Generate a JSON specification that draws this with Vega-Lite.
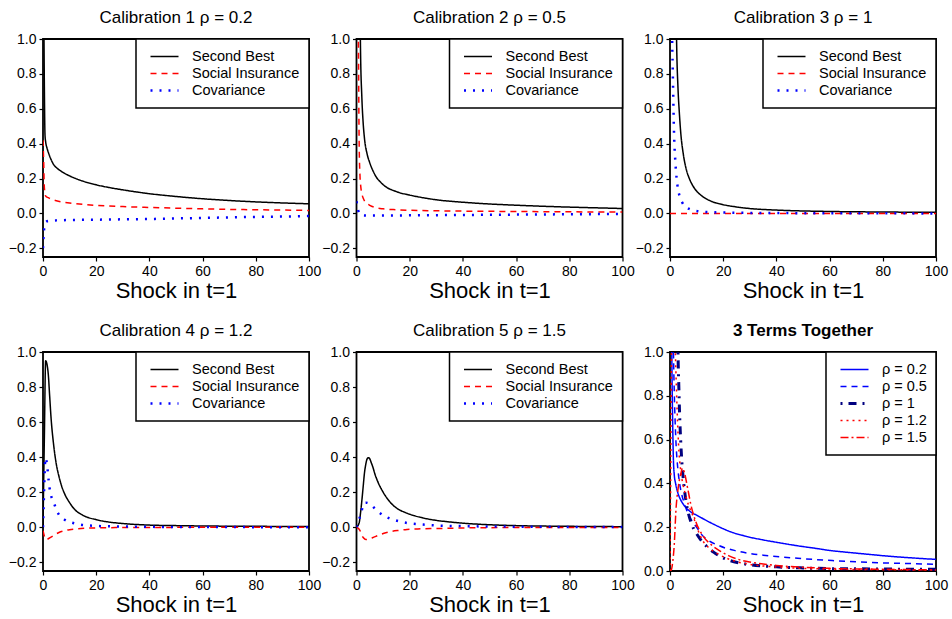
{
  "$schema": "https://vega.github.io/schema/vega-lite/v6.json",
  "background": "white",
  "padding": {"left": 7, "top": 8, "right": 4, "bottom": 4},
  "config": {
    "font": "Liberation Sans",
    "view": {"stroke": "black", "strokeWidth": 1.8},
    "axis": {"grid": false, "domain": false, "tickColor": "black", "tickSize": 4, "tickWidth": 1.2, "labelColor": "black", "labelFontSize": 14, "labelFont": "Liberation Sans", "labelPadding": 3, "titleFont": "Liberation Sans", "titleFontSize": 22, "titleFontWeight": "normal", "titleColor": "black", "titlePadding": 2},
    "title": {"fontSize": 17, "fontWeight": "normal", "color": "black", "font": "Liberation Sans", "offset": 5},
    "legend": {"orient": "top-right", "offset": 0, "padding": 9, "strokeColor": "black", "strokeWidth": 1.5, "fillColor": "white", "symbolType": "stroke", "symbolSize": 784, "clipHeight": 17, "rowPadding": 0, "labelFontSize": 14.5, "labelFont": "Liberation Sans", "labelColor": "black", "labelOffset": 12, "symbolOffset": 4, "title": null}
  },
  "columns": 3,
  "spacing": {"row": 95, "column": 47.5},
  "bounds": "flush",
  "resolve": {"scale": {"color": "independent", "strokeDash": "independent", "strokeWidth": "independent", "y": "independent", "x": "independent"}},
  "datasets": {
    "p1": [
      {"s":"Second Best","x":0.25,"y":1.3},{"s":"Second Best","x":0.5,"y":0.75},{"s":"Second Best","x":0.75,"y":0.45},{"s":"Second Best","x":1,"y":0.41},{"s":"Second Best","x":1.5,"y":0.375},{"s":"Second Best","x":2,"y":0.35},{"s":"Second Best","x":3,"y":0.31},{"s":"Second Best","x":4,"y":0.28},{"s":"Second Best","x":5,"y":0.263},{"s":"Second Best","x":7,"y":0.24},{"s":"Second Best","x":10,"y":0.215},{"s":"Second Best","x":15,"y":0.185},{"s":"Second Best","x":20,"y":0.164},{"s":"Second Best","x":25,"y":0.148},{"s":"Second Best","x":30,"y":0.135},{"s":"Second Best","x":40,"y":0.113},{"s":"Second Best","x":50,"y":0.097},{"s":"Second Best","x":60,"y":0.084},{"s":"Second Best","x":70,"y":0.074},{"s":"Second Best","x":80,"y":0.066},{"s":"Second Best","x":90,"y":0.06},{"s":"Second Best","x":100,"y":0.055},
      {"s":"Social Insurance","x":0,"y":0.42},{"s":"Social Insurance","x":0.25,"y":0.3},{"s":"Social Insurance","x":0.5,"y":0.15},{"s":"Social Insurance","x":1,"y":0.1},{"s":"Social Insurance","x":2,"y":0.09},{"s":"Social Insurance","x":3,"y":0.083},{"s":"Social Insurance","x":5,"y":0.073},{"s":"Social Insurance","x":7,"y":0.066},{"s":"Social Insurance","x":10,"y":0.06},{"s":"Social Insurance","x":15,"y":0.052},{"s":"Social Insurance","x":20,"y":0.046},{"s":"Social Insurance","x":30,"y":0.039},{"s":"Social Insurance","x":40,"y":0.034},{"s":"Social Insurance","x":50,"y":0.03},{"s":"Social Insurance","x":60,"y":0.026},{"s":"Social Insurance","x":70,"y":0.023},{"s":"Social Insurance","x":80,"y":0.021},{"s":"Social Insurance","x":90,"y":0.019},{"s":"Social Insurance","x":100,"y":0.017},
      {"s":"Covariance","x":0,"y":-0.2},{"s":"Covariance","x":0.25,"y":-0.12},{"s":"Covariance","x":0.5,"y":-0.08},{"s":"Covariance","x":1,"y":-0.05},{"s":"Covariance","x":2,"y":-0.043},{"s":"Covariance","x":5,"y":-0.04},{"s":"Covariance","x":10,"y":-0.038},{"s":"Covariance","x":20,"y":-0.036},{"s":"Covariance","x":30,"y":-0.034},{"s":"Covariance","x":40,"y":-0.032},{"s":"Covariance","x":50,"y":-0.029},{"s":"Covariance","x":60,"y":-0.026},{"s":"Covariance","x":70,"y":-0.023},{"s":"Covariance","x":80,"y":-0.02},{"s":"Covariance","x":90,"y":-0.018},{"s":"Covariance","x":100,"y":-0.015}
    ],
    "p2": [
      {"s":"Second Best","x":1.3,"y":1.3},{"s":"Second Best","x":1.5,"y":0.95},{"s":"Second Best","x":2,"y":0.67},{"s":"Second Best","x":2.5,"y":0.52},{"s":"Second Best","x":3,"y":0.43},{"s":"Second Best","x":4,"y":0.34},{"s":"Second Best","x":5,"y":0.29},{"s":"Second Best","x":7,"y":0.22},{"s":"Second Best","x":10,"y":0.165},{"s":"Second Best","x":15,"y":0.125},{"s":"Second Best","x":20,"y":0.105},{"s":"Second Best","x":25,"y":0.09},{"s":"Second Best","x":30,"y":0.078},{"s":"Second Best","x":40,"y":0.064},{"s":"Second Best","x":50,"y":0.054},{"s":"Second Best","x":60,"y":0.047},{"s":"Second Best","x":70,"y":0.041},{"s":"Second Best","x":80,"y":0.036},{"s":"Second Best","x":90,"y":0.032},{"s":"Second Best","x":100,"y":0.028},
      {"s":"Social Insurance","x":0.6,"y":1.3},{"s":"Social Insurance","x":0.8,"y":0.8},{"s":"Social Insurance","x":1,"y":0.4},{"s":"Social Insurance","x":1.3,"y":0.22},{"s":"Social Insurance","x":1.6,"y":0.155},{"s":"Social Insurance","x":2,"y":0.115},{"s":"Social Insurance","x":2.5,"y":0.088},{"s":"Social Insurance","x":3,"y":0.072},{"s":"Social Insurance","x":4,"y":0.056},{"s":"Social Insurance","x":5,"y":0.046},{"s":"Social Insurance","x":7,"y":0.034},{"s":"Social Insurance","x":10,"y":0.026},{"s":"Social Insurance","x":15,"y":0.021},{"s":"Social Insurance","x":20,"y":0.018},{"s":"Social Insurance","x":30,"y":0.015},{"s":"Social Insurance","x":40,"y":0.013},{"s":"Social Insurance","x":60,"y":0.011},{"s":"Social Insurance","x":80,"y":0.009},{"s":"Social Insurance","x":100,"y":0.008},
      {"s":"Covariance","x":0,"y":0.07},{"s":"Covariance","x":0.3,"y":0.04},{"s":"Covariance","x":0.6,"y":0.02},{"s":"Covariance","x":1,"y":0},{"s":"Covariance","x":1.5,"y":-0.008},{"s":"Covariance","x":2,"y":-0.011},{"s":"Covariance","x":5,"y":-0.012},{"s":"Covariance","x":10,"y":-0.012},{"s":"Covariance","x":20,"y":-0.011},{"s":"Covariance","x":40,"y":-0.009},{"s":"Covariance","x":60,"y":-0.007},{"s":"Covariance","x":80,"y":-0.005},{"s":"Covariance","x":100,"y":-0.003}
    ],
    "p3": [
      {"s":"Second Best","x":2.2,"y":1.3},{"s":"Second Best","x":2.5,"y":0.97},{"s":"Second Best","x":3,"y":0.72},{"s":"Second Best","x":3.5,"y":0.58},{"s":"Second Best","x":4,"y":0.47},{"s":"Second Best","x":5,"y":0.34},{"s":"Second Best","x":6,"y":0.26},{"s":"Second Best","x":7,"y":0.21},{"s":"Second Best","x":8,"y":0.175},{"s":"Second Best","x":10,"y":0.128},{"s":"Second Best","x":12,"y":0.1},{"s":"Second Best","x":15,"y":0.073},{"s":"Second Best","x":20,"y":0.05},{"s":"Second Best","x":25,"y":0.037},{"s":"Second Best","x":30,"y":0.028},{"s":"Second Best","x":40,"y":0.019},{"s":"Second Best","x":50,"y":0.014},{"s":"Second Best","x":60,"y":0.011},{"s":"Second Best","x":80,"y":0.008},{"s":"Second Best","x":100,"y":0.006},
      {"s":"Social Insurance","x":0,"y":0},{"s":"Social Insurance","x":25,"y":0},{"s":"Social Insurance","x":50,"y":0},{"s":"Social Insurance","x":75,"y":0},{"s":"Social Insurance","x":100,"y":0},
      {"s":"Covariance","x":0.6,"y":1.3},{"s":"Covariance","x":0.8,"y":1.0},{"s":"Covariance","x":1,"y":0.85},{"s":"Covariance","x":1.25,"y":0.65},{"s":"Covariance","x":1.5,"y":0.47},{"s":"Covariance","x":2,"y":0.3},{"s":"Covariance","x":2.5,"y":0.2},{"s":"Covariance","x":3,"y":0.14},{"s":"Covariance","x":3.5,"y":0.105},{"s":"Covariance","x":4.5,"y":0.065},{"s":"Covariance","x":5.5,"y":0.042},{"s":"Covariance","x":7,"y":0.027},{"s":"Covariance","x":8.5,"y":0.018},{"s":"Covariance","x":10,"y":0.014},{"s":"Covariance","x":13,"y":0.009},{"s":"Covariance","x":17,"y":0.006},{"s":"Covariance","x":20,"y":0.005},{"s":"Covariance","x":30,"y":0.003},{"s":"Covariance","x":40,"y":0.002},{"s":"Covariance","x":60,"y":0.001},{"s":"Covariance","x":100,"y":0}
    ],
    "p4": [
      {"s":"Second Best","x":0,"y":0},{"s":"Second Best","x":0.5,"y":0.5},{"s":"Second Best","x":1,"y":0.95},{"s":"Second Best","x":1.5,"y":0.93},{"s":"Second Best","x":2,"y":0.87},{"s":"Second Best","x":2.5,"y":0.75},{"s":"Second Best","x":3,"y":0.63},{"s":"Second Best","x":4,"y":0.47},{"s":"Second Best","x":5,"y":0.36},{"s":"Second Best","x":6,"y":0.29},{"s":"Second Best","x":7,"y":0.235},{"s":"Second Best","x":8,"y":0.195},{"s":"Second Best","x":10,"y":0.14},{"s":"Second Best","x":12,"y":0.1},{"s":"Second Best","x":15,"y":0.068},{"s":"Second Best","x":20,"y":0.043},{"s":"Second Best","x":25,"y":0.029},{"s":"Second Best","x":30,"y":0.021},{"s":"Second Best","x":40,"y":0.012},{"s":"Second Best","x":50,"y":0.009},{"s":"Second Best","x":60,"y":0.007},{"s":"Second Best","x":80,"y":0.005},{"s":"Second Best","x":100,"y":0.004},
      {"s":"Social Insurance","x":0,"y":-0.02},{"s":"Social Insurance","x":0.5,"y":-0.05},{"s":"Social Insurance","x":1,"y":-0.07},{"s":"Social Insurance","x":2,"y":-0.066},{"s":"Social Insurance","x":3,"y":-0.057},{"s":"Social Insurance","x":4,"y":-0.048},{"s":"Social Insurance","x":5,"y":-0.038},{"s":"Social Insurance","x":6,"y":-0.03},{"s":"Social Insurance","x":8,"y":-0.02},{"s":"Social Insurance","x":10,"y":-0.014},{"s":"Social Insurance","x":13,"y":-0.009},{"s":"Social Insurance","x":16,"y":-0.006},{"s":"Social Insurance","x":20,"y":-0.004},{"s":"Social Insurance","x":30,"y":-0.002},{"s":"Social Insurance","x":50,"y":-0.001},{"s":"Social Insurance","x":100,"y":0},
      {"s":"Covariance","x":0,"y":0},{"s":"Covariance","x":0.3,"y":0.15},{"s":"Covariance","x":0.6,"y":0.3},{"s":"Covariance","x":0.9,"y":0.395},{"s":"Covariance","x":1.5,"y":0.36},{"s":"Covariance","x":2.1,"y":0.27},{"s":"Covariance","x":2.75,"y":0.196},{"s":"Covariance","x":3.5,"y":0.16},{"s":"Covariance","x":4.3,"y":0.13},{"s":"Covariance","x":5,"y":0.1},{"s":"Covariance","x":5.8,"y":0.076},{"s":"Covariance","x":7,"y":0.056},{"s":"Covariance","x":8,"y":0.044},{"s":"Covariance","x":9.5,"y":0.032},{"s":"Covariance","x":11,"y":0.025},{"s":"Covariance","x":14,"y":0.015},{"s":"Covariance","x":17,"y":0.01},{"s":"Covariance","x":22,"y":0.006},{"s":"Covariance","x":30,"y":0.004},{"s":"Covariance","x":40,"y":0.002},{"s":"Covariance","x":60,"y":0.001},{"s":"Covariance","x":100,"y":0}
    ],
    "p5": [
      {"s":"Second Best","x":0,"y":0},{"s":"Second Best","x":1,"y":0.025},{"s":"Second Best","x":1.5,"y":0.08},{"s":"Second Best","x":2,"y":0.15},{"s":"Second Best","x":2.5,"y":0.23},{"s":"Second Best","x":3,"y":0.31},{"s":"Second Best","x":3.5,"y":0.36},{"s":"Second Best","x":4,"y":0.39},{"s":"Second Best","x":4.5,"y":0.397},{"s":"Second Best","x":5,"y":0.39},{"s":"Second Best","x":5.5,"y":0.37},{"s":"Second Best","x":6,"y":0.35},{"s":"Second Best","x":7,"y":0.3},{"s":"Second Best","x":8,"y":0.26},{"s":"Second Best","x":10,"y":0.2},{"s":"Second Best","x":12,"y":0.155},{"s":"Second Best","x":14,"y":0.122},{"s":"Second Best","x":16,"y":0.1},{"s":"Second Best","x":18,"y":0.086},{"s":"Second Best","x":20,"y":0.074},{"s":"Second Best","x":25,"y":0.053},{"s":"Second Best","x":30,"y":0.039},{"s":"Second Best","x":35,"y":0.03},{"s":"Second Best","x":40,"y":0.023},{"s":"Second Best","x":50,"y":0.014},{"s":"Second Best","x":60,"y":0.009},{"s":"Second Best","x":80,"y":0.005},{"s":"Second Best","x":100,"y":0.003},
      {"s":"Social Insurance","x":0,"y":0},{"s":"Social Insurance","x":1,"y":-0.012},{"s":"Social Insurance","x":1.5,"y":-0.025},{"s":"Social Insurance","x":2,"y":-0.045},{"s":"Social Insurance","x":2.6,"y":-0.06},{"s":"Social Insurance","x":3.5,"y":-0.07},{"s":"Social Insurance","x":4.5,"y":-0.068},{"s":"Social Insurance","x":6,"y":-0.06},{"s":"Social Insurance","x":8.5,"y":-0.045},{"s":"Social Insurance","x":11,"y":-0.032},{"s":"Social Insurance","x":13.5,"y":-0.023},{"s":"Social Insurance","x":16,"y":-0.018},{"s":"Social Insurance","x":19,"y":-0.013},{"s":"Social Insurance","x":23,"y":-0.01},{"s":"Social Insurance","x":28,"y":-0.008},{"s":"Social Insurance","x":35,"y":-0.006},{"s":"Social Insurance","x":40,"y":-0.004},{"s":"Social Insurance","x":60,"y":-0.002},{"s":"Social Insurance","x":100,"y":-0.001},
      {"s":"Covariance","x":0,"y":0},{"s":"Covariance","x":1,"y":0.045},{"s":"Covariance","x":1.9,"y":0.09},{"s":"Covariance","x":2.6,"y":0.135},{"s":"Covariance","x":3.5,"y":0.14},{"s":"Covariance","x":4.5,"y":0.137},{"s":"Covariance","x":5.5,"y":0.128},{"s":"Covariance","x":7,"y":0.105},{"s":"Covariance","x":8.5,"y":0.085},{"s":"Covariance","x":10,"y":0.068},{"s":"Covariance","x":12,"y":0.053},{"s":"Covariance","x":14,"y":0.042},{"s":"Covariance","x":17,"y":0.03},{"s":"Covariance","x":20,"y":0.022},{"s":"Covariance","x":25,"y":0.015},{"s":"Covariance","x":30,"y":0.01},{"s":"Covariance","x":40,"y":0.006},{"s":"Covariance","x":60,"y":0.003},{"s":"Covariance","x":100,"y":0.001}
    ],
    "p6": [
      {"s":"ρ = 0.2","x":0.5,"y":1.3},{"s":"ρ = 0.2","x":0.75,"y":0.9},{"s":"ρ = 0.2","x":1,"y":0.68},{"s":"ρ = 0.2","x":1.25,"y":0.52},{"s":"ρ = 0.2","x":1.6,"y":0.44},{"s":"ρ = 0.2","x":2.1,"y":0.4},{"s":"ρ = 0.2","x":3,"y":0.355},{"s":"ρ = 0.2","x":4,"y":0.325},{"s":"ρ = 0.2","x":5,"y":0.305},{"s":"ρ = 0.2","x":6.5,"y":0.283},{"s":"ρ = 0.2","x":8,"y":0.268},{"s":"ρ = 0.2","x":10,"y":0.255},{"s":"ρ = 0.2","x":13,"y":0.235},{"s":"ρ = 0.2","x":16.5,"y":0.213},{"s":"ρ = 0.2","x":20,"y":0.193},{"s":"ρ = 0.2","x":23,"y":0.178},{"s":"ρ = 0.2","x":28,"y":0.16},{"s":"ρ = 0.2","x":35,"y":0.142},{"s":"ρ = 0.2","x":42,"y":0.127},{"s":"ρ = 0.2","x":48,"y":0.115},{"s":"ρ = 0.2","x":55,"y":0.103},{"s":"ρ = 0.2","x":60,"y":0.094},{"s":"ρ = 0.2","x":67,"y":0.085},{"s":"ρ = 0.2","x":73,"y":0.078},{"s":"ρ = 0.2","x":80,"y":0.07},{"s":"ρ = 0.2","x":86,"y":0.064},{"s":"ρ = 0.2","x":92,"y":0.059},{"s":"ρ = 0.2","x":100,"y":0.053},
      {"s":"ρ = 0.5","x":1,"y":1.3},{"s":"ρ = 0.5","x":1.3,"y":1.0},{"s":"ρ = 0.5","x":1.6,"y":0.82},{"s":"ρ = 0.5","x":2.2,"y":0.6},{"s":"ρ = 0.5","x":3,"y":0.46},{"s":"ρ = 0.5","x":3.5,"y":0.41},{"s":"ρ = 0.5","x":4.6,"y":0.34},{"s":"ρ = 0.5","x":5.4,"y":0.31},{"s":"ρ = 0.5","x":6.5,"y":0.27},{"s":"ρ = 0.5","x":7.2,"y":0.25},{"s":"ρ = 0.5","x":8.5,"y":0.225},{"s":"ρ = 0.5","x":10,"y":0.2},{"s":"ρ = 0.5","x":12,"y":0.165},{"s":"ρ = 0.5","x":14.7,"y":0.138},{"s":"ρ = 0.5","x":18,"y":0.118},{"s":"ρ = 0.5","x":21,"y":0.104},{"s":"ρ = 0.5","x":25,"y":0.092},{"s":"ρ = 0.5","x":30,"y":0.08},{"s":"ρ = 0.5","x":36,"y":0.071},{"s":"ρ = 0.5","x":42,"y":0.064},{"s":"ρ = 0.5","x":48,"y":0.058},{"s":"ρ = 0.5","x":55,"y":0.052},{"s":"ρ = 0.5","x":62,"y":0.047},{"s":"ρ = 0.5","x":70,"y":0.042},{"s":"ρ = 0.5","x":80,"y":0.037},{"s":"ρ = 0.5","x":90,"y":0.034},{"s":"ρ = 0.5","x":100,"y":0.03},
      {"s":"ρ = 1","x":2.7,"y":1.3},{"s":"ρ = 1","x":3,"y":1.0},{"s":"ρ = 1","x":3.3,"y":0.85},{"s":"ρ = 1","x":3.6,"y":0.72},{"s":"ρ = 1","x":4,"y":0.6},{"s":"ρ = 1","x":4.5,"y":0.49},{"s":"ρ = 1","x":5,"y":0.42},{"s":"ρ = 1","x":6,"y":0.32},{"s":"ρ = 1","x":7,"y":0.26},{"s":"ρ = 1","x":8,"y":0.22},{"s":"ρ = 1","x":9,"y":0.19},{"s":"ρ = 1","x":10,"y":0.17},{"s":"ρ = 1","x":12,"y":0.135},{"s":"ρ = 1","x":14,"y":0.11},{"s":"ρ = 1","x":16.5,"y":0.085},{"s":"ρ = 1","x":19,"y":0.066},{"s":"ρ = 1","x":22,"y":0.05},{"s":"ρ = 1","x":26,"y":0.037},{"s":"ρ = 1","x":30,"y":0.029},{"s":"ρ = 1","x":35,"y":0.023},{"s":"ρ = 1","x":40,"y":0.019},{"s":"ρ = 1","x":50,"y":0.014},{"s":"ρ = 1","x":60,"y":0.011},{"s":"ρ = 1","x":70,"y":0.01},{"s":"ρ = 1","x":80,"y":0.009},{"s":"ρ = 1","x":90,"y":0.008},{"s":"ρ = 1","x":100,"y":0.008},
      {"s":"ρ = 1.2","x":0,"y":0},{"s":"ρ = 1.2","x":0.25,"y":0.4},{"s":"ρ = 1.2","x":0.5,"y":0.9},{"s":"ρ = 1.2","x":0.8,"y":1.15},{"s":"ρ = 1.2","x":1.5,"y":1.15},{"s":"ρ = 1.2","x":2,"y":1.0},{"s":"ρ = 1.2","x":2.5,"y":0.8},{"s":"ρ = 1.2","x":3.2,"y":0.58},{"s":"ρ = 1.2","x":4,"y":0.46},{"s":"ρ = 1.2","x":5,"y":0.39},{"s":"ρ = 1.2","x":6,"y":0.34},{"s":"ρ = 1.2","x":7,"y":0.3},{"s":"ρ = 1.2","x":8,"y":0.27},{"s":"ρ = 1.2","x":9,"y":0.24},{"s":"ρ = 1.2","x":10.4,"y":0.19},{"s":"ρ = 1.2","x":12,"y":0.145},{"s":"ρ = 1.2","x":14.7,"y":0.105},{"s":"ρ = 1.2","x":18,"y":0.078},{"s":"ρ = 1.2","x":22,"y":0.055},{"s":"ρ = 1.2","x":25,"y":0.043},{"s":"ρ = 1.2","x":30,"y":0.03},{"s":"ρ = 1.2","x":35,"y":0.023},{"s":"ρ = 1.2","x":40,"y":0.018},{"s":"ρ = 1.2","x":50,"y":0.012},{"s":"ρ = 1.2","x":60,"y":0.009},{"s":"ρ = 1.2","x":80,"y":0.006},{"s":"ρ = 1.2","x":100,"y":0.004},
      {"s":"ρ = 1.5","x":0,"y":0},{"s":"ρ = 1.5","x":0.5,"y":0.005},{"s":"ρ = 1.5","x":1,"y":0.04},{"s":"ρ = 1.5","x":1.6,"y":0.12},{"s":"ρ = 1.5","x":2.2,"y":0.27},{"s":"ρ = 1.5","x":3.2,"y":0.39},{"s":"ρ = 1.5","x":4.1,"y":0.446},{"s":"ρ = 1.5","x":4.7,"y":0.47},{"s":"ρ = 1.5","x":5.4,"y":0.45},{"s":"ρ = 1.5","x":6.6,"y":0.38},{"s":"ρ = 1.5","x":7.9,"y":0.3},{"s":"ρ = 1.5","x":9.7,"y":0.225},{"s":"ρ = 1.5","x":12.2,"y":0.164},{"s":"ρ = 1.5","x":16,"y":0.115},{"s":"ρ = 1.5","x":19,"y":0.09},{"s":"ρ = 1.5","x":22,"y":0.07},{"s":"ρ = 1.5","x":26,"y":0.052},{"s":"ρ = 1.5","x":30,"y":0.041},{"s":"ρ = 1.5","x":35,"y":0.032},{"s":"ρ = 1.5","x":40,"y":0.025},{"s":"ρ = 1.5","x":50,"y":0.017},{"s":"ρ = 1.5","x":60,"y":0.012},{"s":"ρ = 1.5","x":80,"y":0.008},{"s":"ρ = 1.5","x":100,"y":0.005}
    ]
  },
  "concat": [
    {
      "title": "Calibration 1 ρ = 0.2", "width": 266, "height": 218,
      "data": {"name": "p1"},
      "mark": {"type": "line", "clip": true, "interpolate": "monotone"},
      "encoding": {
        "x": {"field": "x", "type": "quantitative", "scale": {"domain": [0, 100], "nice": false, "zero": false}, "axis": {"values": [0, 20, 40, 60, 80, 100], "labelFlush": false, "title": "Shock in t=1"}},
        "y": {"field": "y", "type": "quantitative", "scale": {"domain": [-0.25, 1], "nice": false, "zero": false}, "axis": {"values": [-0.2, 0, 0.2, 0.4, 0.6, 0.8, 1], "format": ".1f", "title": null}},
        "color": {"field": "s", "type": "nominal", "scale": {"domain": ["Second Best", "Social Insurance", "Covariance"], "range": ["#000000", "#FF0000", "#0000FF"]}, "legend": {"title": null}},
        "strokeDash": {"field": "s", "type": "nominal", "scale": {"domain": ["Second Best", "Social Insurance", "Covariance"], "range": [[1, 0], [6, 5], [2, 7]]}, "legend": {"title": null}},
        "strokeWidth": {"field": "s", "type": "nominal", "scale": {"type": "ordinal", "domain": ["Second Best", "Social Insurance", "Covariance"], "range": [1.5, 1.5, 2.5]}, "legend": {"title": null}}
      }
    },
    {
      "title": "Calibration 2 ρ = 0.5", "width": 266, "height": 218,
      "data": {"name": "p2"},
      "mark": {"type": "line", "clip": true, "interpolate": "monotone"},
      "encoding": {
        "x": {"field": "x", "type": "quantitative", "scale": {"domain": [0, 100], "nice": false, "zero": false}, "axis": {"values": [0, 20, 40, 60, 80, 100], "labelFlush": false, "title": "Shock in t=1"}},
        "y": {"field": "y", "type": "quantitative", "scale": {"domain": [-0.25, 1], "nice": false, "zero": false}, "axis": {"values": [-0.2, 0, 0.2, 0.4, 0.6, 0.8, 1], "format": ".1f", "title": null}},
        "color": {"field": "s", "type": "nominal", "scale": {"domain": ["Second Best", "Social Insurance", "Covariance"], "range": ["#000000", "#FF0000", "#0000FF"]}, "legend": {"title": null}},
        "strokeDash": {"field": "s", "type": "nominal", "scale": {"domain": ["Second Best", "Social Insurance", "Covariance"], "range": [[1, 0], [6, 5], [2, 7]]}, "legend": {"title": null}},
        "strokeWidth": {"field": "s", "type": "nominal", "scale": {"type": "ordinal", "domain": ["Second Best", "Social Insurance", "Covariance"], "range": [1.5, 1.5, 2.5]}, "legend": {"title": null}}
      }
    },
    {
      "title": "Calibration 3 ρ = 1", "width": 266, "height": 218,
      "data": {"name": "p3"},
      "mark": {"type": "line", "clip": true, "interpolate": "monotone"},
      "encoding": {
        "x": {"field": "x", "type": "quantitative", "scale": {"domain": [0, 100], "nice": false, "zero": false}, "axis": {"values": [0, 20, 40, 60, 80, 100], "labelFlush": false, "title": "Shock in t=1"}},
        "y": {"field": "y", "type": "quantitative", "scale": {"domain": [-0.25, 1], "nice": false, "zero": false}, "axis": {"values": [-0.2, 0, 0.2, 0.4, 0.6, 0.8, 1], "format": ".1f", "title": null}},
        "color": {"field": "s", "type": "nominal", "scale": {"domain": ["Second Best", "Social Insurance", "Covariance"], "range": ["#000000", "#FF0000", "#0000FF"]}, "legend": {"title": null}},
        "strokeDash": {"field": "s", "type": "nominal", "scale": {"domain": ["Second Best", "Social Insurance", "Covariance"], "range": [[1, 0], [6, 5], [2, 7]]}, "legend": {"title": null}},
        "strokeWidth": {"field": "s", "type": "nominal", "scale": {"type": "ordinal", "domain": ["Second Best", "Social Insurance", "Covariance"], "range": [1.5, 1.5, 2.5]}, "legend": {"title": null}}
      }
    },
    {
      "title": "Calibration 4 ρ = 1.2", "width": 266, "height": 219,
      "data": {"name": "p4"},
      "mark": {"type": "line", "clip": true, "interpolate": "monotone"},
      "encoding": {
        "x": {"field": "x", "type": "quantitative", "scale": {"domain": [0, 100], "nice": false, "zero": false}, "axis": {"values": [0, 20, 40, 60, 80, 100], "labelFlush": false, "title": "Shock in t=1"}},
        "y": {"field": "y", "type": "quantitative", "scale": {"domain": [-0.25, 1], "nice": false, "zero": false}, "axis": {"values": [-0.2, 0, 0.2, 0.4, 0.6, 0.8, 1], "format": ".1f", "title": null}},
        "color": {"field": "s", "type": "nominal", "scale": {"domain": ["Second Best", "Social Insurance", "Covariance"], "range": ["#000000", "#FF0000", "#0000FF"]}, "legend": {"title": null}},
        "strokeDash": {"field": "s", "type": "nominal", "scale": {"domain": ["Second Best", "Social Insurance", "Covariance"], "range": [[1, 0], [6, 5], [2, 7]]}, "legend": {"title": null}},
        "strokeWidth": {"field": "s", "type": "nominal", "scale": {"type": "ordinal", "domain": ["Second Best", "Social Insurance", "Covariance"], "range": [1.5, 1.5, 2.5]}, "legend": {"title": null}}
      }
    },
    {
      "title": "Calibration 5 ρ = 1.5", "width": 266, "height": 219,
      "data": {"name": "p5"},
      "mark": {"type": "line", "clip": true, "interpolate": "monotone"},
      "encoding": {
        "x": {"field": "x", "type": "quantitative", "scale": {"domain": [0, 100], "nice": false, "zero": false}, "axis": {"values": [0, 20, 40, 60, 80, 100], "labelFlush": false, "title": "Shock in t=1"}},
        "y": {"field": "y", "type": "quantitative", "scale": {"domain": [-0.25, 1], "nice": false, "zero": false}, "axis": {"values": [-0.2, 0, 0.2, 0.4, 0.6, 0.8, 1], "format": ".1f", "title": null}},
        "color": {"field": "s", "type": "nominal", "scale": {"domain": ["Second Best", "Social Insurance", "Covariance"], "range": ["#000000", "#FF0000", "#0000FF"]}, "legend": {"title": null}},
        "strokeDash": {"field": "s", "type": "nominal", "scale": {"domain": ["Second Best", "Social Insurance", "Covariance"], "range": [[1, 0], [6, 5], [2, 7]]}, "legend": {"title": null}},
        "strokeWidth": {"field": "s", "type": "nominal", "scale": {"type": "ordinal", "domain": ["Second Best", "Social Insurance", "Covariance"], "range": [1.5, 1.5, 2.5]}, "legend": {"title": null}}
      }
    },
    {
      "title": {"text": "3 Terms Together", "fontWeight": "bold"}, "width": 266, "height": 219,
      "data": {"name": "p6"},
      "mark": {"type": "line", "clip": true, "interpolate": "monotone"},
      "encoding": {
        "x": {"field": "x", "type": "quantitative", "scale": {"domain": [0, 100], "nice": false, "zero": false}, "axis": {"values": [0, 20, 40, 60, 80, 100], "labelFlush": false, "title": "Shock in t=1"}},
        "y": {"field": "y", "type": "quantitative", "scale": {"domain": [0, 1], "nice": false, "zero": false}, "axis": {"values": [0, 0.2, 0.4, 0.6, 0.8, 1], "format": ".1f", "title": null}},
        "color": {"field": "s", "type": "nominal", "scale": {"domain": ["ρ = 0.2", "ρ = 0.5", "ρ = 1", "ρ = 1.2", "ρ = 1.5"], "range": ["#0000FF", "#0000FF", "#000080", "#FF0000", "#FF0000"]}, "legend": {"title": null}},
        "strokeDash": {"field": "s", "type": "nominal", "scale": {"domain": ["ρ = 0.2", "ρ = 0.5", "ρ = 1", "ρ = 1.2", "ρ = 1.5"], "range": [[1, 0], [6, 5], [2, 6, 8, 6], [2, 4], [8, 3, 2, 3]]}, "legend": {"title": null}},
        "strokeWidth": {"field": "s", "type": "nominal", "scale": {"type": "ordinal", "domain": ["ρ = 0.2", "ρ = 0.5", "ρ = 1", "ρ = 1.2", "ρ = 1.5"], "range": [1.5, 1.5, 3, 1.5, 1.5]}, "legend": {"title": null}}
      }
    }
  ]
}
